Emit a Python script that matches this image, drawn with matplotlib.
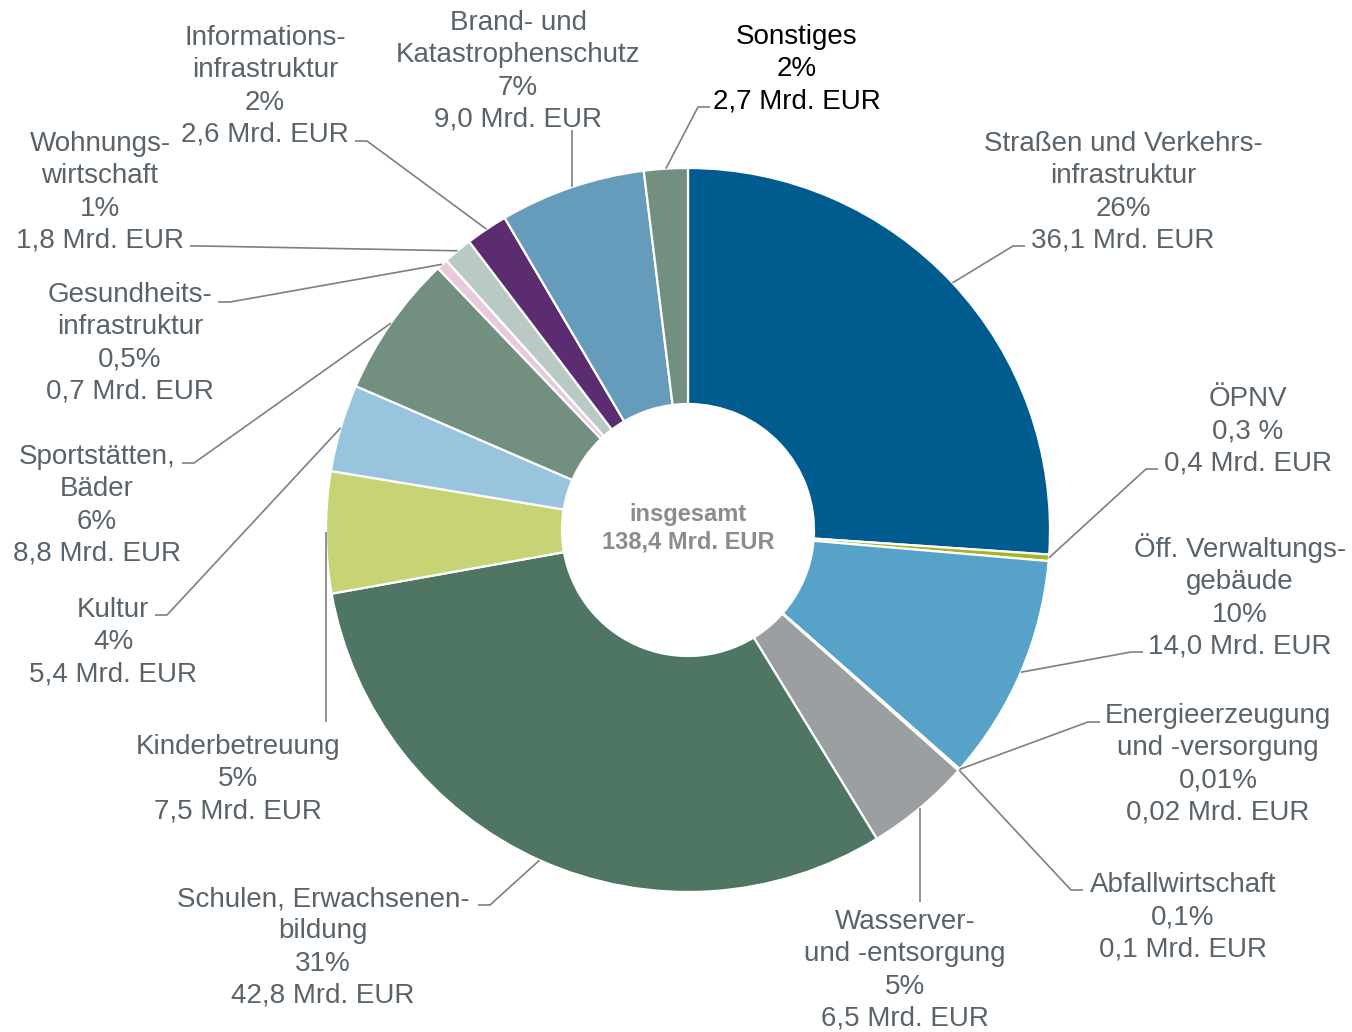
import matplotlib.pyplot as plt
import numpy as np

plt.rcParams['font.family'] = ['Liberation Sans', 'DejaVu Sans']

categories = ['Straßen und Verkehrs-\ninfrastruktur', 'ÖPNV', 'Öff. Verwaltungs-\ngebäude',
              'Energieerzeugung\nund -versorgung', 'Abfallwirtschaft', 'Wasserver-\nund -entsorgung',
              'Schulen, Erwachsenen-\nbildung', 'Kinderbetreuung', 'Kultur', 'Sportstätten,\nBäder',
              'Gesundheits-\ninfrastruktur', 'Wohnungs-\nwirtschaft', 'Informations-\ninfrastruktur',
              'Brand- und\nKatastrophenschutz', 'Sonstiges']
values = [36.1, 0.4, 14.0, 0.02, 0.1, 6.5, 42.8, 7.5, 5.4, 8.8, 0.7, 1.8, 2.6, 9.0, 2.7]
pct_labels = ['26%', '0,3 %', '10%', '0,01%', '0,1%', '5%', '31%', '5%', '4%', '6%',
              '0,5%', '1%', '2%', '7%', '2%']
colors = ['#005B8F', '#A5B51F', '#56A2C8', '#E0A030', '#8A8F94', '#9B9FA2', '#4E7662',
          '#C8D375', '#98C5DD', '#738F7F', '#E8C9DE', '#B9C9C3', '#5B2C6F', '#659CBC', '#738F7F']

# label layout in image pixels: text centre x, first line centre y, leader
layout = [
    (1123, 141, ('elbow', 1025, 246)),
    (1248, 396, ('elbow', 1158, 469)),
    (1240, 547, ('elbow', 1143, 652)),
    (1218, 713, ('elbow', 1100, 722)),
    (1183, 882, ('elbow', 1083, 890)),
    (905, 919, ('vert', 902)),
    (323, 896, ('elbow', 478, 905)),
    (238, 744, ('vert', 722)),
    (113, 607, ('elbow', 155, 615)),
    (97, 454, ('elbow', 182, 463)),
    (130, 292, ('elbow', 218, 302)),
    (100, 141, ('elbow', 190, 246)),
    (265, 35, ('elbow', 355, 141)),
    (518, 20, ('vert', 130)),
    (797, 34, ('elbow', 710, 107)),
]

W, H = 1352, 1032
cx, cy, R, r_in = 688, 530, 362, 126
step = 32.3
text_color = '#59636B'
line_color = '#7F7F7F'

fig = plt.figure(figsize=(13.52, 10.32), dpi=100)
ax = fig.add_axes([0, 0, 1, 1])

ax.pie(values, colors=colors, radius=R, center=(cx, H - cy), startangle=90,
       counterclock=False,
       wedgeprops=dict(width=R - r_in, edgecolor='white', linewidth=1.6))

vals = np.array(values)
total = vals.sum()
mids = (np.cumsum(vals) - vals / 2) / total * 2 * np.pi
anchor_x = cx + R * np.sin(mids)
anchor_y = cy - R * np.cos(mids)

for i, cat in enumerate(categories):
    tx, ty, leader = layout[i]
    ax_, ay_ = anchor_x[i], anchor_y[i]
    if leader[0] == 'elbow':
        px, py = leader[1], leader[2]
        d = 12 if px > ax_ else -12
        xs = [ax_, px - d, px]
        ys = [ay_, py, py]
    else:
        xs = [ax_, ax_]
        ys = [ay_, leader[1]]
    ax.plot(xs, [H - y for y in ys], color=line_color, lw=1.2, solid_capstyle='butt')

    v = values[i]
    vtxt = (f'{v:.2f}' if v < 0.05 else f'{v:.1f}').replace('.', ',') + ' Mrd. EUR'
    lines = cat.split('\n') + [pct_labels[i], vtxt]
    col = 'black' if cat == 'Sonstiges' else text_color
    for k, ln in enumerate(lines):
        ax.text(tx, H - (ty + k * step + 10), ln, ha='center', va='baseline',
                fontsize=20, color=col)

tot_txt = f'{total:.1f}'.replace('.', ',')
ax.text(cx, H - (512 + 8.5), 'insgesamt', ha='center', va='baseline',
        fontsize=17, fontweight='bold', color='#8C8C8C')
ax.text(cx, H - (540 + 8.5), f'{tot_txt} Mrd. EUR', ha='center', va='baseline',
        fontsize=17, fontweight='bold', color='#8C8C8C')

ax.set_xlim(0, W)
ax.set_ylim(0, H)
ax.set_aspect('equal')
ax.axis('off')

plt.savefig('out.png', dpi=100)
